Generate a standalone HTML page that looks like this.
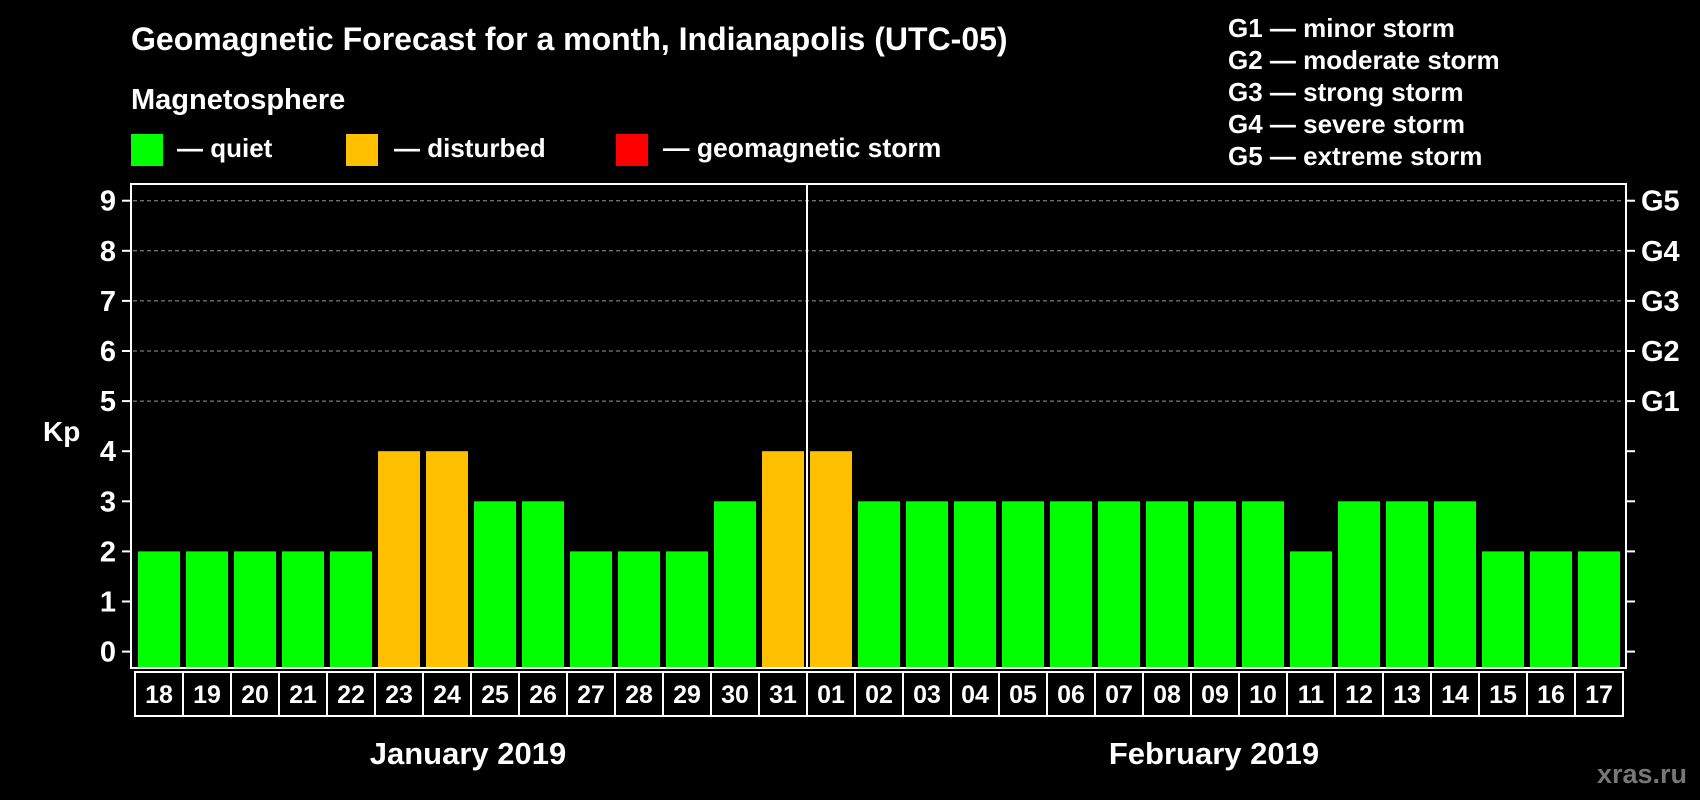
<!DOCTYPE html>
<html><head><meta charset="utf-8"><style>
html,body{margin:0;padding:0;background:#000;width:1700px;height:800px;overflow:hidden}
svg{display:block;font-family:"Liberation Sans",sans-serif;font-weight:bold}
</style></head><body>
<svg id="c" width="1700" height="800">
<text x="131" y="50" fill="#fff" font-size="32">Geomagnetic Forecast for a month, Indianapolis (UTC-05)</text>
<text x="131" y="109" fill="#fff" font-size="29">Magnetosphere</text>
<rect x="131" y="134" width="32" height="32" fill="#00ff00"/>
<text x="177" y="157" fill="#fff" font-size="26">— quiet</text>
<rect x="346" y="134" width="32" height="32" fill="#ffc000"/>
<text x="394" y="157" fill="#fff" font-size="26">— disturbed</text>
<rect x="616" y="134" width="32" height="32" fill="#ff0000"/>
<text x="663" y="157" fill="#fff" font-size="26.5">— geomagnetic storm</text>
<g fill="#fff" font-size="26">
<text x="1228" y="37">G1 — minor storm</text>
<text x="1228" y="69">G2 — moderate storm</text>
<text x="1228" y="101">G3 — strong storm</text>
<text x="1228" y="133">G4 — severe storm</text>
<text x="1228" y="165">G5 — extreme storm</text>
</g>
<text x="43" y="441" fill="#fff" font-size="28">Kp</text>
<text x="468" y="764" fill="#fff" font-size="31" text-anchor="middle">January 2019</text>
<text x="1214" y="764" fill="#fff" font-size="31" text-anchor="middle">February 2019</text>
<text x="1642" y="783" fill="#777" font-size="27" text-anchor="middle">xras.ru</text>
<g id="plot"></g>
</svg>
<script>
const days=["18","19","20","21","22","23","24","25","26","27","28","29","30","31","01","02","03","04","05","06","07","08","09","10","11","12","13","14","15","16","17"];
const kpValues=[2,2,2,2,2,4,4,3,3,2,2,2,3,4,4,3,3,3,3,3,3,3,3,3,2,3,3,3,2,2,2];
const yTicks=[0,1,2,3,4,5,6,7,8,9];
const gLabels=["","","","","","G1","G2","G3","G4","G5"];
const NS="http://www.w3.org/2000/svg";
const g=document.getElementById('plot');
const L=131,R=1626,T=184,B=668,band0=135,bw=48;
const y=v=>651.6-v*50.1;
const x=i=>band0+i*bw;
function mk(t,a){const e=document.createElementNS(NS,t);for(const k in a)e.setAttribute(k,a[k]);g.appendChild(e);return e;}
yTicks.forEach((v,i)=>{
  const yy=y(v);
  if(v>=5){const gl=mk('line',{x1:L+2,x2:R-2,y1:yy,y2:yy,stroke:'#999','stroke-width':1,'stroke-dasharray':'4,3'});
  
  }
  const t1=mk('line',{x1:L-9,x2:L,y1:yy,y2:yy,stroke:'#fff','stroke-width':2});
  
  
  const t2=mk('line',{x1:R,x2:R+9,y1:yy,y2:yy,stroke:'#fff','stroke-width':2});
  
  
  const lb=mk('text',{x:116,y:yy+10,fill:'#fff','font-size':29,'text-anchor':'end'});lb.textContent=v;
  
  
  if(gLabels[i]){const gt=mk('text',{x:1641,y:yy+10,fill:'#fff','font-size':29});gt.textContent=gLabels[i];
  
  }
});
kpValues.forEach((v,i)=>{
  const b=mk('rect',{x:x(i)+3,y:y(v),width:42,height:B-y(v),fill:v>=5?'#ff0000':(v>=4?'#ffc000':'#00ff00')});
  
  
  const c=mk('rect',{x:x(i),y:672,width:bw,height:44,fill:'none',stroke:'#fff','stroke-width':2});
  
  
  const t=mk('text',{x:x(i)+bw/2,y:703,fill:'#fff','font-size':25,'text-anchor':'middle'});t.textContent=days[i];
  
  
});
const fr=mk('rect',{x:L,y:T,width:R-L,height:B-T,fill:'none',stroke:'#fff','stroke-width':2});


const mi=days.indexOf("01");
const dv=mk('line',{x1:x(mi),x2:x(mi),y1:T,y2:B,stroke:'#fff','stroke-width':2});


</script>
</body></html>
